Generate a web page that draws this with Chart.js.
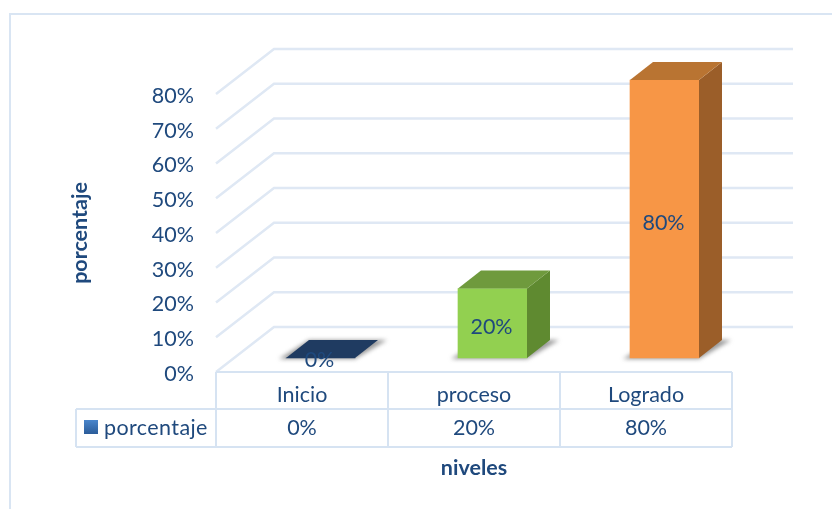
<!DOCTYPE html>
<html>
<head>
<meta charset="utf-8">
<script src="https://cdn.jsdelivr.net/npm/chart.js@4"></script>
<style>
  html,body{margin:0;padding:0;background:#fff;}
  canvas{display:block;}
</style>
</head>
<body>
<canvas id="chart" width="832" height="509"></canvas>
<script>
const categories=['Inicio','proceso','Logrado'];
const values=[0,20,80];
const seriesName='porcentaje';
const xTitle='niveles';
const yTitle='porcentaje';
const tickStep=10;

const textColor='#1F497D';
const lineColor='#DFE8F4';
const fontFamily='Lato, "Open Sans", sans-serif';
const fontSize=21.5;
const frontColors=['#1F3B61','#92D050','#F79646'];
const topColors=['#1F3B61','#6F9A3D','#B97432'];
const sideColors=['#1F3B61','#5F8A30','#9B5E29'];

// depth of the fake 3D box, and where bars sit on the floor
const wallDx=58, wallDy=-45;
const floorDx=18.5, floorDy=-14;
const boxDx=23, boxDy=-18;

function poly(ctx,pts,fill){
  ctx.beginPath();
  pts.forEach((p,i)=>i?ctx.lineTo(p[0],p[1]):ctx.moveTo(p[0],p[1]));
  ctx.closePath();
  ctx.fillStyle=fill;
  ctx.fill();
}

function line(ctx,pts){
  ctx.beginPath();
  pts.forEach((p,i)=>i?ctx.lineTo(p[0],p[1]):ctx.moveTo(p[0],p[1]));
  ctx.stroke();
}

const box3d={
  id:'box3d',
  beforeDatasetsDraw(chart){
    const {ctx,chartArea:a,scales:{y}}=chart;
    const bars=chart.getDatasetMeta(0).data;
    ctx.save();
    // outer frame
    ctx.strokeStyle='#D9E5F3';
    ctx.lineWidth=2;
    line(ctx,[[10,509],[10,14],[832,14]]);
    // back wall and side wall lines
    ctx.lineWidth=2.5;
    ctx.strokeStyle=lineColor;
    y.ticks.forEach(t=>{
      const py=y.getPixelForValue(t.value);
      line(ctx,[[a.left,py],[a.left+wallDx,py+wallDy],[a.right+61,py+wallDy]]);
    });
    // ground shadows
    ctx.translate(floorDx,floorDy);
    bars.forEach(b=>{
      const l=b.x-b.width/2, r=b.x+b.width/2;
      ctx.save();
      ctx.filter='blur(2px)';
      poly(ctx,[[l-7,b.base+1],[r,b.base+1],[r+boxDx+9,b.base+boxDy],[l+boxDx,b.base+boxDy]],'rgba(110,110,110,.7)');
      ctx.restore();
    });
    // the bars themselves are shifted onto the floor until afterDatasetsDraw
  },
  afterDatasetsDraw(chart){
    const {ctx}=chart;
    const bars=chart.getDatasetMeta(0).data;
    bars.forEach((b,i)=>{
      const l=b.x-b.width/2, r=b.x+b.width/2;
      poly(ctx,[[r,b.y],[r+boxDx,b.y+boxDy],[r+boxDx,b.base+boxDy],[r,b.base]],sideColors[i]);
      poly(ctx,[[l,b.y],[l+boxDx,b.y+boxDy],[r+boxDx,b.y+boxDy],[r,b.y]],topColors[i]);
      ctx.fillStyle=textColor;
      ctx.font=fontSize+'px '+fontFamily;
      ctx.textAlign='center';
      ctx.textBaseline='middle';
      ctx.fillText(values[i]+'%',b.x-1,(b.y+b.base)/2+(values[i]?4:2));
    });
    ctx.restore();
  },
  afterDraw(chart){
    const {ctx,chartArea:a,scales:{x}}=chart;
    const rowTop=a.bottom, rowMid=409, rowEnd=447, tableLeft=76;
    const cellW=(a.right-a.left)/categories.length;
    ctx.save();
    ctx.strokeStyle='#D6E3F2';
    ctx.lineWidth=2;
    // data table grid
    line(ctx,[[a.left,rowTop],[a.right,rowTop]]);
    line(ctx,[[tableLeft,rowMid],[a.right,rowMid]]);
    line(ctx,[[tableLeft,rowEnd],[a.right,rowEnd]]);
    line(ctx,[[tableLeft,rowMid],[tableLeft,rowEnd]]);
    for(let i=0;i<=categories.length;i++){
      const vx=a.left+cellW*i;
      line(ctx,[[vx,rowTop],[vx,rowEnd]]);
    }
    // series key
    const grad=ctx.createLinearGradient(0,420,0,434);
    grad.addColorStop(0,'#4A86CC');
    grad.addColorStop(1,'#2B5C99');
    ctx.fillStyle=grad;
    ctx.fillRect(84,420,14,14);
    ctx.fillStyle=textColor;
    ctx.font=fontSize+'px '+fontFamily;
    ctx.textBaseline='middle';
    ctx.textAlign='left';
    ctx.letterSpacing='0.4px';
    ctx.fillText(seriesName,104,428);
    ctx.letterSpacing='0px';
    ctx.textAlign='center';
    values.forEach((v,i)=>ctx.fillText(v+'%',x.getPixelForValue(i),428));
    ctx.restore();
  }
};

new Chart(document.getElementById('chart'),{
  type:'bar',
  data:{
    labels:categories,
    datasets:[{
      label:seriesName,
      data:values,
      backgroundColor:frontColors,
      barThickness:69,
      clip:false
    }]
  },
  plugins:[box3d],
  options:{
    responsive:false,
    animation:false,
    layout:{padding:{top:94,right:100,left:0,bottom:0}},
    plugins:{legend:{display:false},tooltip:{enabled:false}},
    scales:{
      x:{
        afterFit(s){s.height=137;},
        grid:{display:false},
        border:{display:false},
        ticks:{color:textColor,font:{family:fontFamily,size:fontSize},padding:2,maxRotation:0},
        title:{display:true,text:xTitle,color:textColor,font:{family:fontFamily,size:21.5,weight:'bold'},padding:{top:0,bottom:28}}
      },
      y:{
        min:0,
        max:80,
        afterFit(s){s.width=216;},
        grid:{display:false},
        border:{display:false},
        ticks:{stepSize:tickStep,color:textColor,font:{family:fontFamily,size:fontSize},padding:14,labelOffset:2,callback:v=>v+'%'},
        title:{display:true,text:yTitle,color:textColor,font:{family:fontFamily,size:21.5,weight:'bold'},padding:{top:67,bottom:0}}
      }
    }
  }
});
</script>
</body>
</html>
